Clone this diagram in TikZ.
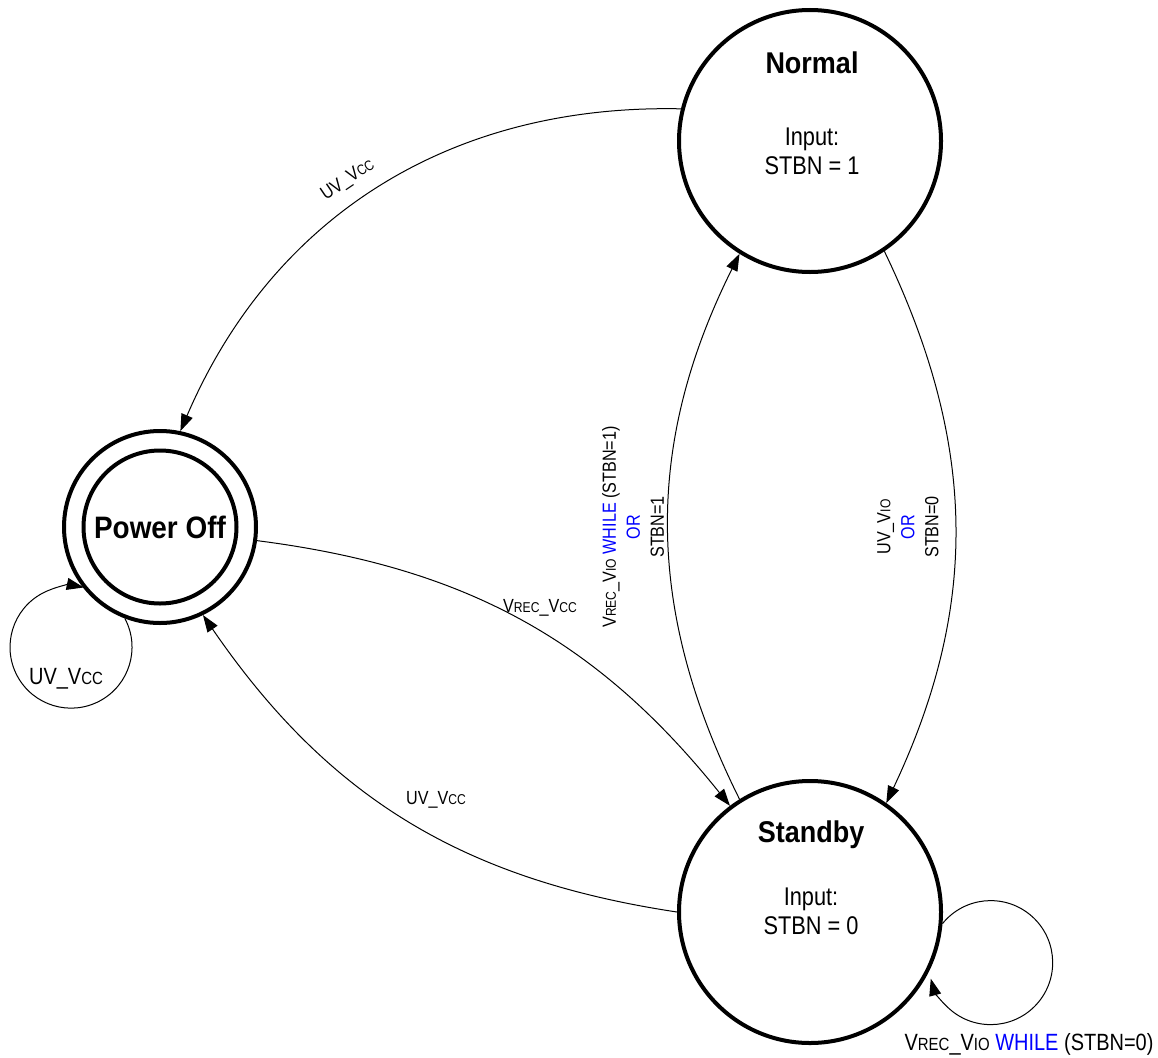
\documentclass[tikz,border=0pt]{standalone}
\usepackage{fontspec}
\setmainfont{Liberation Sans}[FakeStretch=0.85]
\newfontfamily\headf{Liberation Sans}[FakeStretch=0.9]
\usepackage{xcolor}
\usetikzlibrary{arrows.meta}
\makeatletter
\newcommand\sbs[1]{{\fontsize{\fpeval{0.75*\f@size}}{0}\selectfont #1}}
\makeatother
\tikzset{
  state/.style={circle, draw, line width=4pt, minimum size=#1, inner sep=0pt},
  conn/.style={line width=1pt, -{Triangle[length=17pt,width=12pt]}},
  title/.style={font=\headf\bfseries\fontsize{30}{36}\selectfont, inner sep=0pt},
  body/.style={font=\fontsize{25.6}{29}\selectfont, align=center, inner sep=0pt},
  elabel/.style={font=\fontsize{19}{24}\selectfont, align=center, inner sep=0pt},
  llabel/.style={font=\fontsize{23.5}{28}\selectfont, inner sep=0pt},
}
\begin{document}
\begin{tikzpicture}
\useasboundingbox (0,0) rectangle (1158pt,-1057pt);
\begin{scope}[x=1pt,y=1pt]
% states
\node[state=262pt] (N) at (810,-141) {};
\node[state=262pt] (S) at (810,-912) {};
\node[state=192pt] (P) at (160,-527) {};
\node[state=153pt, font=\headf\bfseries\fontsize{31}{36}\selectfont] (Pi) at (160,-527) {Power Off};
% state texts
\node[title] (Nt) at (812,-63) {Normal};
\node[body] (Nb) at (812,-151) {Input:\\STBN = 1};
\node[title] (St) at (811,-835) {Standby};
\node[body] (Sb) at (811,-911) {Input:\\STBN = 0};
% transitions
\draw[conn] (N.166) to[bend right=34] (P.78);
\draw[conn] (P.-8) to[bend left=22] (S.127.5);
\draw[conn] (S.180) to[bend left=23.5] (P.-64);
\draw[conn] (S.122) to[bend left=26.5] (N.-122);
\draw[conn] (N.-56.7) to[bend left=25.5] (S.55.6);
% self loops
\draw[conn] (P.-111) arc[start angle=28, end angle=-282, radius=61];
\draw[conn] (S.-5.5) arc[start angle=141, end angle=-165, radius=62];
% labels
\node[elabel, rotate=34] (l1) at (348,-180) {UV\_V\sbs{CC}};
\node[elabel] (l2) at (540,-608) {V\sbs{REC}\_V\sbs{CC}};
\node[elabel] (l3) at (436,-800) {UV\_V\sbs{CC}};
\node[elabel, rotate=90] (l4) at (633,-527) {V\sbs{REC}\_V\sbs{IO} \textcolor{blue}{WHILE} (STBN=1)\\\textcolor{blue}{OR}\\STBN=1};
\node[elabel, rotate=90] (l5) at (908,-527) {UV\_V\sbs{IO}\\\textcolor{blue}{OR}\\STBN=0};
\node[llabel] (l6) at (66,-679) {UV\_V\sbs{CC}};
\node[llabel] (l7) at (1029,-1044) {V\sbs{REC}\_V\sbs{IO} \textcolor{blue}{WHILE} (STBN=0)};
\end{scope}
\end{tikzpicture}
\end{document}
